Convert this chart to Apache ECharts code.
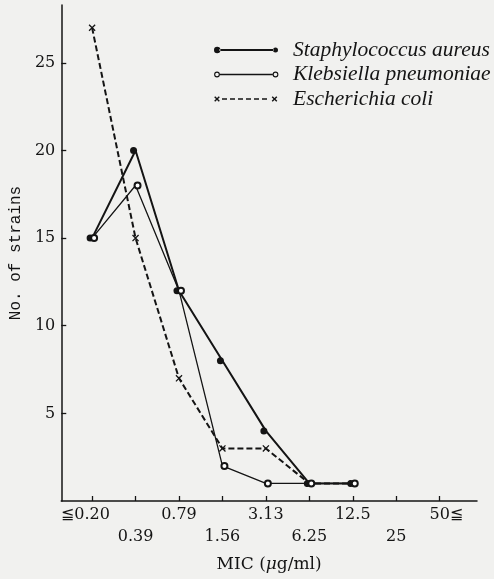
<!DOCTYPE html>
<html><head><meta charset="utf-8">
<script src="https://cdn.jsdelivr.net/npm/echarts@6/dist/echarts.min.js"></script>
<style>html,body{margin:0;padding:0;background:#f1f1ef}#c{width:494px;height:579px}</style>
</head><body><div id="c"></div>
<script>
// ---- data ----
const categories = ['≦0.20','0.39','0.79','1.56','3.13','6.25','12.5','25','50≦'];
const staphylococcus = [15,20,12,8,4,1,1,null,null];
const klebsiella     = [15,18,12,2,1,1,1,null,null];
const escherichia    = [27,15,7,3,3,1,1,null,null];
const yTickValues = [5,10,15,20,25];
const seriesNames = ['Staphylococcus aureus','Klebsiella pneumoniae','Escherichia coli'];

// ---- styling helpers ----
const INK = '#141414';
const SERIF = 'DejaVu Serif';
// category k is placed at position k+1 on a value axis
const xPos = categories.map((c,i)=>i+1);
const xPosUpper = xPos.filter((p,i)=>i%2===0);
const xPosLower = xPos.filter((p,i)=>i%2===1);
const toPairs = arr => arr.map((v,i)=>[i+1,v]).filter(p=>p[1]!=null);

function circ(cx,cy,r,rev){
  const s = rev ? 1 : 0;
  return `M${cx-r},${cy} A${r},${r} 0 1,${s} ${cx+r},${cy} A${r},${r} 0 1,${s} ${cx-r},${cy} Z `;
}
function ring(cx,cy,r1,r2){ return circ(cx,cy,r1,false)+circ(cx,cy,r2,true); }
function rect(x0,y0,x1,y1){ return `M${x0},${y0} L${x1},${y0} L${x1},${y1} L${x0},${y1} Z `; }
function cross(cx,cy,h,d){
  return `M${cx-h},${cy-h+d} L${cx-h+d},${cy-h} L${cx+h},${cy+h-d} L${cx+h-d},${cy+h} Z `+
         `M${cx+h-d},${cy-h} L${cx+h},${cy-h+d} L${cx-h+d},${cy+h} L${cx-h},${cy+h-d} Z `;
}
const BOX = 'M0,0 L0,0 M74,10 L74,10 ';
const iconStaph = 'path://' + BOX + circ(3.2,5,3.2,false) + rect(5.5,4.1,59.5,5.9) + circ(61.5,5,2.5,false);
const iconKleb  = 'path://' + BOX + ring(3,5,2.9,1.8) + rect(5.8,4.35,58.7,5.65) + ring(61.5,5,2.9,1.8);
let dashes = '';
for (let x=8; x<54; x+=8) dashes += rect(x,4.3,x+5,5.7);
const iconEcoli = 'path://' + BOX + cross(3,5,2.8,1.0) + dashes + cross(60.5,5,2.8,1.0);
const xMark = 'path://M0,1.3 L1.3,0 L10,8.7 L8.7,10 Z M8.7,0 L10,1.3 L1.3,10 L0,8.7 Z';

const labelFmt = (v)=>{
  const i = Math.round(v) - 1; let s = categories[i];
  if (s === undefined) return '';
  if (s.startsWith('≦')) s = s + '{g| }';
  else if (s.endsWith('≦')) s = '{g| }' + s;
  return s;
};
const labelBase = {fontFamily:SERIF, fontSize:16, color:INK, hideOverlap:false,
  showMinLabel:true, showMaxLabel:true, formatter:labelFmt,
  rich:{g:{width:13, fontFamily:SERIF, fontSize:16}}};

const chart = echarts.init(document.getElementById('c'), null, {renderer:'canvas'});
chart.setOption({
  backgroundColor: '#f1f1ef',
  animation: false,
  grid: {left:60, right:17, top:5, bottom:78},
  legend: {
    orient:'vertical', left:209, top:34, itemWidth:74, itemHeight:10, itemGap:2.5,
    selectedMode:false,
    itemStyle:{borderWidth:0},
    data:[{name:seriesNames[0], icon:iconStaph},{name:seriesNames[1], icon:iconKleb},{name:seriesNames[2], icon:iconEcoli}],
    textStyle:{fontFamily:'Liberation Serif', fontStyle:'italic', fontSize:21.5, lineHeight:22, color:INK}
  },
  xAxis: [{
    type:'value', min:0.29, max:9.86, position:'bottom',
    axisLine:{show:true, onZero:false, lineStyle:{color:INK, width:1.5}},
    splitLine:{show:false},
    axisTick:{show:true, inside:true, length:5, customValues:xPos, lineStyle:{color:INK, width:1.3}},
    axisLabel:Object.assign({customValues:xPosUpper, margin:6}, labelBase),
    name:'MIC ({mu|μ}g/ml)', nameLocation:'middle', nameGap:55,
    nameTextStyle:{fontFamily:SERIF, fontSize:17, color:INK,
      rich:{mu:{fontFamily:SERIF, fontSize:17, fontStyle:'italic', color:INK}}}
  },{
    type:'value', min:0.29, max:9.86, position:'bottom',
    axisLine:{show:false, onZero:false},
    splitLine:{show:false},
    axisTick:{show:false},
    axisLabel:Object.assign({customValues:xPosLower, margin:28}, labelBase)
  }],
  yAxis: {
    type:'value', min:0, max:28.3,
    axisLine:{show:true, onZero:false, lineStyle:{color:INK, width:1.5}},
    splitLine:{show:false},
    axisTick:{show:true, inside:true, length:5, customValues:yTickValues, lineStyle:{color:INK, width:1.3}},
    axisLabel:{customValues:yTickValues, margin:6, fontFamily:SERIF, fontSize:16, color:INK},
    name:'No. of strains', nameLocation:'middle', nameGap:37,
    nameTextStyle:{fontFamily:'Liberation Mono', fontSize:16, color:INK}
  },
  series: [
    {name:seriesNames[0], type:'line', data:toPairs(staphylococcus), symbol:'circle', symbolSize:7,
     symbolOffset:[-2,0], lineStyle:{color:INK, width:2}, itemStyle:{color:INK}, z:3},
    {name:seriesNames[1], type:'line', data:toPairs(klebsiella), symbol:'emptyCircle', symbolSize:6,
     symbolOffset:[2,0], lineStyle:{color:INK, width:1.3}, itemStyle:{color:INK, borderWidth:1.2}, z:4},
    {name:seriesNames[2], type:'line', data:toPairs(escherichia), symbol:xMark, symbolSize:7,
     lineStyle:{color:INK, width:2, type:[6,3]}, itemStyle:{color:INK}, z:2}
  ]
});
</script></body></html>
